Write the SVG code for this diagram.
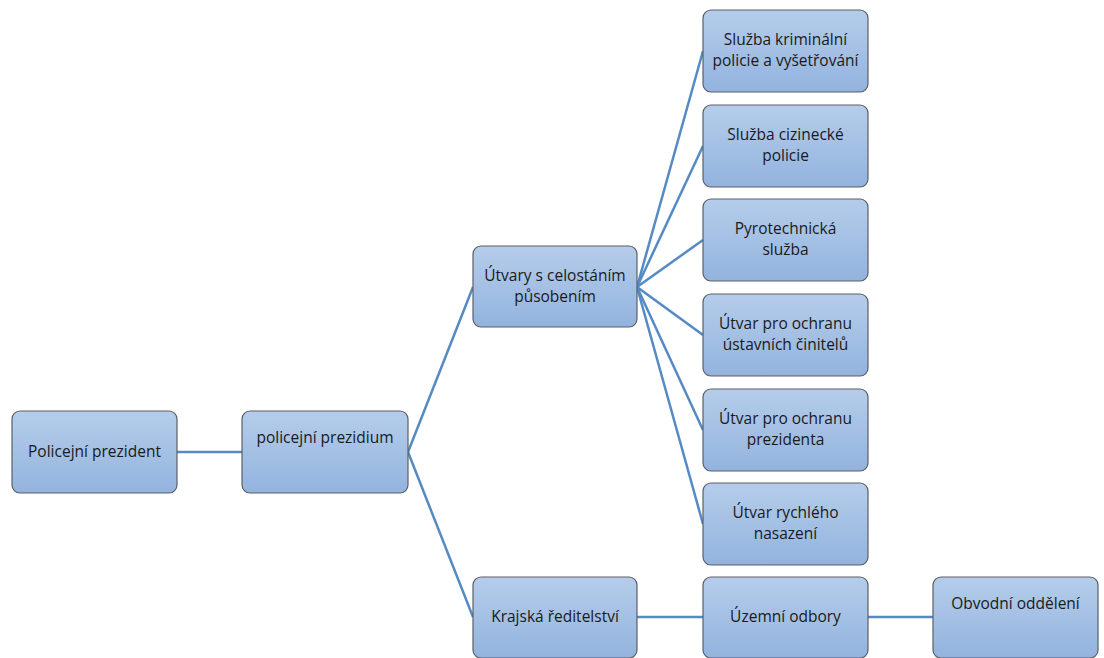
<svg xmlns="http://www.w3.org/2000/svg" width="1104" height="658" viewBox="0 0 1104 658">
<defs>
<linearGradient id="g" x1="0" y1="0" x2="0" y2="1">
<stop offset="0" stop-color="#b5cdea"/>
<stop offset="1" stop-color="#93b3de"/>
</linearGradient>
<style>
.b{fill:url(#g);stroke:#5a5f66;stroke-width:1.2}
.t{font-family:"Open Sans","Liberation Sans",sans-serif;font-size:15.5px;fill:#1a1a1a;text-anchor:middle}
.c{stroke:#558ac4;stroke-width:2.5;fill:none}
</style>
</defs>
<rect width="1104" height="658" fill="#fff"/>
<g id="connectors">
<line class="c" x1="177" y1="452" x2="242" y2="452"/>
<line class="c" x1="408" y1="452" x2="473" y2="287"/>
<line class="c" x1="408" y1="452" x2="473" y2="617"/>
<line class="c" x1="637" y1="287" x2="703" y2="51"/>
<line class="c" x1="637" y1="287" x2="703" y2="146"/>
<line class="c" x1="637" y1="287" x2="703" y2="240"/>
<line class="c" x1="637" y1="287" x2="703" y2="335"/>
<line class="c" x1="637" y1="287" x2="703" y2="430"/>
<line class="c" x1="637" y1="287" x2="703" y2="524"/>
<line class="c" x1="637" y1="617" x2="703" y2="617"/>
<line class="c" x1="868" y1="617" x2="933" y2="617"/>
</g>
<g id="n1"><rect class="b" x="12" y="411" width="165" height="82" rx="8"/><text class="t" x="94.5" y="457">Policejní prezident</text></g>
<g id="n2"><rect class="b" x="242" y="411" width="166" height="82" rx="8"/><text class="t" x="325" y="443">policejní prezidium</text></g>
<g id="n3"><rect class="b" x="473" y="246" width="164" height="81" rx="8"/><text class="t" x="555" y="281">Útvary s celostáním</text><text class="t" x="555" y="302">působením</text></g>
<g id="n4"><rect class="b" x="703" y="10" width="165" height="82" rx="8"/><text class="t" x="785.5" y="45">Služba kriminální</text><text class="t" x="785.5" y="66">policie a vyšetřování</text></g>
<g id="n5"><rect class="b" x="703" y="105" width="165" height="82" rx="8"/><text class="t" x="785.5" y="140">Služba cizinecké</text><text class="t" x="785.5" y="161">policie</text></g>
<g id="n6"><rect class="b" x="703" y="199" width="165" height="82" rx="8"/><text class="t" x="785.5" y="234">Pyrotechnická</text><text class="t" x="785.5" y="255">služba</text></g>
<g id="n7"><rect class="b" x="703" y="294" width="165" height="82" rx="8"/><text class="t" x="785.5" y="329">Útvar pro ochranu</text><text class="t" x="785.5" y="350">ústavních činitelů</text></g>
<g id="n8"><rect class="b" x="703" y="389" width="165" height="82" rx="8"/><text class="t" x="785.5" y="424">Útvar pro ochranu</text><text class="t" x="785.5" y="445">prezidenta</text></g>
<g id="n9"><rect class="b" x="703" y="483" width="165" height="82" rx="8"/><text class="t" x="785.5" y="518">Útvar rychlého</text><text class="t" x="785.5" y="539">nasazení</text></g>
<g id="n10"><rect class="b" x="473" y="577" width="164" height="81" rx="8"/><text class="t" x="555" y="622">Krajská ředitelství</text></g>
<g id="n11"><rect class="b" x="703" y="577" width="165" height="81" rx="8"/><text class="t" x="785.5" y="622">Územní odbory</text></g>
<g id="n12"><rect class="b" x="933" y="577" width="165" height="81" rx="8"/><text class="t" x="1015.5" y="609">Obvodní oddělení</text></g>
</svg>
